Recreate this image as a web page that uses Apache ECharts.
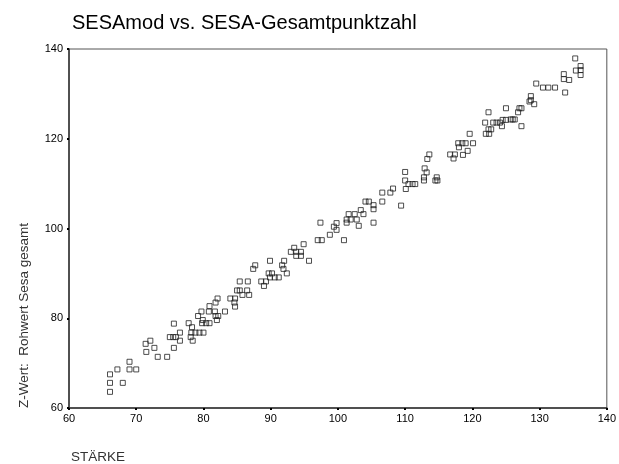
<!DOCTYPE html>
<html>
<head>
<meta charset="utf-8">
<script src="https://cdn.jsdelivr.net/npm/echarts@6/dist/echarts.min.js"></script>
<style>
html,body{margin:0;padding:0;background:#fff;}
#c{width:619px;height:464px;}
</style>
</head>
<body>
<div id="c"></div>
<script>
const chartTitle = "SESAmod vs. SESA-Gesamtpunktzahl";
const xAxisTitle = "STÄRKE";
const yAxisTitle = "Z-Wert:  Rohwert Sesa gesamt";
const xTicks = [60, 70, 80, 90, 100, 110, 120, 130, 140];
const yTicks = [60, 80, 100, 120, 140];

// STÄRKE (x) values
const starke = [
  66.1, 66.1, 66.1, 67.2, 68.0, 69.0, 69.0, 70.0,
  71.4, 72.1, 71.5, 72.7, 73.2, 74.6,
  75.6, 75.6, 75.0, 75.5, 75.9, 76.5, 76.5,
  77.8, 78.3, 78.2, 78.8, 79.4, 80.0, 78.1, 78.4,
  79.2, 79.7, 79.9, 79.8, 80.4, 80.9,
  80.9, 80.8, 81.7, 81.8, 82.0, 82.2, 81.8, 82.1, 83.2,
  84.0, 84.7, 84.6, 84.7, 85.0, 85.4, 86.5, 85.8, 86.8,
  85.4, 86.6, 88.6, 89.3, 89.0,
  89.7, 90.2, 89.9, 90.6, 91.2,
  87.7, 87.4, 89.9, 92.0, 91.7, 91.9, 92.4,
  93.5, 93.0, 93.8, 94.5, 93.8, 94.5, 95.7, 94.9,
  97.0, 97.6,
  97.4, 98.8, 99.8, 99.4, 99.8, 100.9,
  101.3, 101.3, 101.6, 101.9, 102.5, 102.8, 103.1, 103.4, 103.8,
  105.3, 104.1, 104.6, 105.3, 105.3, 106.6,
  106.6, 107.8, 108.2, 109.4, 110.1, 110.0, 110.0, 110.5, 111.1, 111.5,
  112.9, 113.2, 112.8, 112.8, 114.7, 114.5, 114.8,
  113.6, 113.3,
  116.7, 117.2, 117.4,
  117.9, 118.5, 119.0, 120.1, 118.0, 119.3, 118.6,
  119.6, 122.0, 122.5, 122.4, 122.8,
  121.9, 123.1, 123.6, 124.1, 124.5, 125.0, 125.7, 126.0, 126.3, 124.4, 127.3,
  122.4, 125.0, 127.0, 127.3, 126.8,
  128.7, 128.7, 129.2, 128.5,
  129.5, 130.5, 131.3, 132.3,
  133.8, 133.6, 133.6, 134.4,
  135.3, 136.1, 136.1, 136.1, 135.4
];

// Rohwert Sesa gesamt (y) values
const rohwert = [
  67.5, 65.6, 63.6, 68.6, 65.6, 70.3, 68.6, 68.6,
  74.3, 75.0, 72.5, 73.4, 71.4, 71.4,
  78.8, 73.4, 75.8, 75.8, 75.8, 76.8, 75.0,
  78.9, 78.0, 76.8, 76.8, 76.8, 76.8, 75.8, 75.0,
  80.5, 81.5, 79.6, 78.9, 78.9, 78.9,
  82.7, 81.5, 81.5, 80.5, 79.6, 80.5, 83.5, 84.4, 81.5,
  84.4, 84.4, 83.5, 82.6, 86.2, 86.2, 86.2, 85.2, 85.2,
  88.2, 88.2, 88.2, 88.2, 87.2,
  90.0, 90.0, 89.1, 89.1, 89.1,
  91.8, 91.0, 92.8, 92.8, 91.8, 91.0, 90.0,
  95.7, 94.8, 94.8, 94.8, 93.9, 93.9, 92.8, 96.5,
  97.4, 97.4,
  101.3, 98.6, 101.2, 100.4, 99.7, 97.4,
  102.0, 101.3, 103.2, 102.0, 103.2, 102.0, 100.6, 104.1, 103.2,
  101.3, 106.0, 106.0, 105.2, 104.3, 106.0,
  108.0, 108.0, 108.9, 105.1, 108.8, 112.6, 110.7, 109.9, 109.9, 109.9,
  113.4, 112.5, 111.4, 110.7, 111.4, 110.7, 110.7,
  116.5, 115.5,
  116.5, 115.6, 116.5,
  119.0, 119.0, 119.0, 119.0, 118.1, 117.3, 116.4,
  121.1, 121.1, 121.1, 122.1, 122.1,
  123.6, 123.6, 123.6, 123.6, 124.2, 124.2, 124.3, 124.3, 124.3, 122.8, 122.8,
  125.9, 126.8, 126.8, 126.8, 125.9,
  129.5, 128.6, 127.7, 128.3,
  132.3, 131.4, 131.4, 131.4,
  130.3, 134.4, 133.3, 133.1,
  137.9, 136.2, 135.3, 134.2, 135.2
];

const points = starke.map((x, i) => [x, rohwert[i]]);
const FONT = "'Liberation Sans', Arial, sans-serif";

const chart = echarts.init(document.getElementById('c'), null, {renderer: 'canvas'});
chart.setOption({
  animation: false,
  backgroundColor: '#ffffff',
  title: {
    text: chartTitle,
    left: 72,
    top: 13,
    padding: 0,
    textStyle: {fontFamily: FONT, fontSize: 20, fontWeight: 'normal', color: '#000'}
  },
  grid: {
    left: 69, right: 7, top: 49, bottom: 56,
    show: true, borderColor: '#555', borderWidth: 1
  },
  xAxis: {
    type: 'value',
    min: xTicks[0], max: xTicks[xTicks.length - 1], interval: 10,
    splitLine: {show: false},
    axisLine: {lineStyle: {color: '#333', width: 1.5}},
    axisTick: {show: true, length: 2, lineStyle: {color: '#000', width: 2}},
    axisLabel: {fontFamily: FONT, fontSize: 11, color: '#000', margin: 5}
  },
  yAxis: {
    type: 'value',
    min: yTicks[0], max: yTicks[yTicks.length - 1], interval: 20,
    splitLine: {show: false},
    axisLine: {lineStyle: {color: '#333', width: 1.5}},
    axisTick: {show: true, length: 2, lineStyle: {color: '#000', width: 2}},
    axisLabel: {fontFamily: FONT, fontSize: 11, color: '#000', margin: 6}
  },
  graphic: [
    {
      type: 'text',
      x: 24, y: 408,
      rotation: Math.PI / 2,
      style: {text: yAxisTitle, font: "13.5px 'Liberation Sans', Arial, sans-serif", fill: '#333', textAlign: 'left', textVerticalAlign: 'middle'}
    },
    {
      type: 'text',
      x: 71, y: 457,
      style: {text: xAxisTitle, font: "13.5px 'Liberation Sans', Arial, sans-serif", fill: '#333', textAlign: 'left', textVerticalAlign: 'middle'}
    }
  ],
  series: [{
    type: 'scatter',
    data: points,
    symbol: 'rect',
    symbolSize: 5,
    itemStyle: {color: 'rgba(255,255,255,0)', borderColor: '#222', borderWidth: 1}
  }]
});
</script>
</body>
</html>
